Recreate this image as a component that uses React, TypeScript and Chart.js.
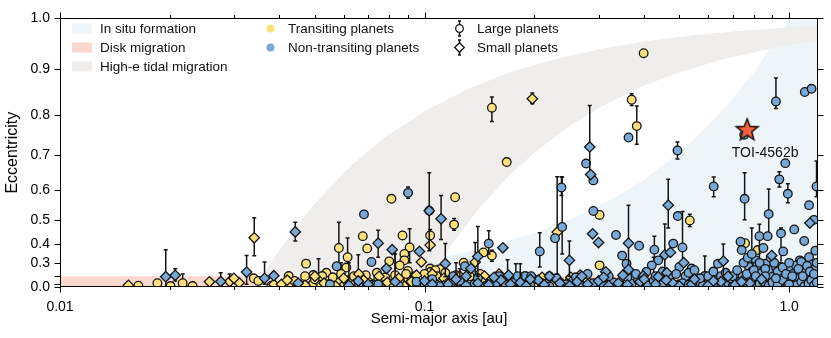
import { useEffect, useRef } from "react";
import { Chart, registerables } from "chart.js";

Chart.register(...registerables);

// ---------- data: [semi-major axis (au), eccentricity, e lower, e upper] ----------
const transitingLarge: number[][] = [
  [0.399, 0.933], [0.153, 0.817, 0.785, 0.841], [0.168, 0.682], [0.37, 0.835, 0.822, 0.848],
  [0.382, 0.774, 0.729, 0.821], [0.0811, 0.573], [0.1213, 0.578], [0.534, 0.498, 0.475, 0.52],
  [0.302, 0.518], [0.1205, 0.482, 0.46, 0.505], [0.087, 0.438], [0.1036, 0.438, 0.41, 0.463],
  [0.091, 0.384, 0.3, 0.466], [0.088, 0.351], [0.088, 0.315], [0.1036, 0.262], [0.11, 0.258],
  [0.09, 0.245], [0.128, 0.301], [0.153, 0.342, 0.31, 0.37], [0.145, 0.359], [0.103, 0.533],
  [0.0677, 0.435], [0.0582, 0.381, 0.3, 0.491], [0.0696, 0.379], [0.0615, 0.333, 0.28, 0.427],
  [0.0473, 0.295], [0.061, 0.269], [0.08, 0.309], [0.0855, 0.284], [0.0495, 0.211], [0.0538, 0.23],
  [0.0524, 0.202], [0.0424, 0.202], [0.034, 0.18], [0.0217, 0.12, 0.05, 0.22], [0.0185, 0.12],
  [0.0164, 0.07], [0.0201, 0.06], [0.0231, 0.06], [0.757, 0.404], [0.302, 0.284], [0.867, 0.187],
  [0.82, 0.371], [0.104, 0.238], [0.107, 0.25],
  [0.0424, 0.08], [0.0452, 0.1], [0.0481, 0.05], [0.0495, 0.12], [0.0512, 0.15, 0.05, 0.325], [0.0545, 0.1],
  [0.058, 0.13], [0.06, 0.06], [0.0618, 0.16], [0.0658, 0.11, 0.03, 0.346], [0.0675, 0.05], [0.07, 0.14],
  [0.0725, 0.1], [0.0746, 0.17], [0.077, 0.07], [0.0795, 0.12], [0.082, 0.05], [0.0846, 0.15],
  [0.0875, 0.09], [0.0901, 0.18], [0.093, 0.06], [0.0959, 0.12], [0.099, 0.08], [0.1022, 0.16],
  [0.105, 0.05], [0.1088, 0.11], [0.112, 0.14], [0.1158, 0.07], [0.12, 0.18], [0.1234, 0.09],
  [0.128, 0.05], [0.1314, 0.13], [0.1399, 0.08], [0.145, 0.16], [0.1489, 0.05], [0.155, 0.1],
  [0.1586, 0.14], [0.165, 0.06], [0.1689, 0.18, 0.1, 0.319], [0.18, 0.08], [0.19, 0.12], [0.2039, 0.05],
  [0.215, 0.14], [0.24, 0.07], [0.26, 0.1], [0.28, 0.05], [0.32, 0.09], [0.35, 0.06], [0.44, 0.12],
  [0.6, 0.12], [0.8, 0.12], [0.395, 0.15], [0.035, 0.15], [0.038, 0.07],
  [0.044, 0.15], [0.047, 0.2], [0.05, 0.17], [0.052, 0.09], [0.056, 0.19], [0.059, 0.22, 0.1, 0.3],
  [0.063, 0.14], [0.064, 0.2], [0.069, 0.21], [0.071, 0.09], [0.074, 0.23], [0.076, 0.13],
  [0.078, 0.19], [0.081, 0.1], [0.083, 0.21, 0.1, 0.35], [0.086, 0.12], [0.089, 0.22], [0.092, 0.15],
  [0.094, 0.2], [0.097, 0.1], [0.1, 0.22], [0.104, 0.13], [0.108, 0.2], [0.114, 0.23], [0.117, 0.1],
  [0.122, 0.21], [0.126, 0.14], [0.133, 0.2], [0.138, 0.12], [0.142, 0.22], [0.16, 0.2], [0.172, 0.13],
  [0.185, 0.19], [0.2, 0.1], [0.22, 0.2], [0.25, 0.15], [0.3, 0.12], [0.36, 0.16], [0.5, 0.1],
  [0.7, 0.15], [0.95, 0.1],
];

const transitingSmall: number[][] = [
  [0.0341, 0.428, 0.341, 0.508], [0.1975, 0.837, 0.826, 0.85], [0.1036, 0.395], [0.098, 0.305],
  [0.1377, 0.305, 0.2, 0.407], [0.2311, 0.452, 0.22, 0.641], [0.0154, 0.08], [0.0257, 0.139],
  [0.0292, 0.142, 0.05, 0.22], [0.031, 0.125], [0.03, 0.18], [0.0386, 0.1], [0.113, 0.18], [0.118, 0.163],
  [0.146, 0.202], [0.267, 0.21], [0.279, 0.15], [0.235, 0.142],
  [0.0405, 0.1], [0.047, 0.08], [0.053, 0.12], [0.057, 0.06], [0.064, 0.1], [0.068, 0.16],
  [0.073, 0.08], [0.079, 0.13], [0.088, 0.05], [0.092, 0.14], [0.097, 0.1], [0.107, 0.12],
  [0.113, 0.07], [0.119, 0.16], [0.126, 0.1], [0.135, 0.06], [0.1445, 0.13], [0.152, 0.09],
  [0.163, 0.15], [0.175, 0.07], [0.186, 0.11], [0.2, 0.17], [0.225, 0.1], [0.252, 0.19],
  [0.27, 0.08], [0.232, 0.15], [0.33, 0.1],
  [0.06, 0.18], [0.066, 0.22], [0.075, 0.2], [0.085, 0.18], [0.095, 0.21], [0.105, 0.22],
  [0.125, 0.2], [0.16, 0.22], [0.21, 0.19], [0.05, 0.2], [0.042, 0.16],
];

const nonTransitingLarge: number[][] = [
  [0.0682, 0.52], [0.0901, 0.592, 0.575, 0.61], [0.0574, 0.278], [0.0715, 0.305],
  [0.15, 0.402, 0.35, 0.458], [0.129, 0.278], [0.207, 0.364, 0.273, 0.449], [0.2385, 0.473, 0.35, 0.64],
  [0.228, 0.426], [0.2374, 0.609, 0.584, 0.641], [0.2773, 0.678], [0.2904, 0.63], [0.2904, 0.532],
  [0.3626, 0.746], [0.494, 0.713, 0.69, 0.735], [0.92, 0.831, 0.815, 0.882], [1.104, 0.852],
  [1.152, 0.859], [0.753, 0.753], [0.976, 0.679], [0.94, 0.633, 0.61, 0.655],
  [0.992, 0.589, 0.56, 0.62], [0.621, 0.612, 0.58, 0.64], [0.755, 0.573, 0.5, 0.652],
  [1.189, 0.612, 0.58, 0.685], [0.495, 0.514], [0.335, 0.44], [0.3877, 0.392], [0.3483, 0.342],
  [0.358, 0.295], [0.4269, 0.373, 0.3, 0.435], [0.481, 0.402], [0.4375, 0.315],
  [0.51, 0.384, 0.3, 0.53], [0.5, 0.273], [0.54, 0.262], [0.42, 0.284], [0.406, 0.238],
  [0.587, 0.202, 0.1, 0.34], [0.55, 0.19], [0.52, 0.202], [0.638, 0.295], [0.7356, 0.411],
  [0.741, 0.371], [0.829, 0.435, 0.2, 0.483], [0.879, 0.521, 0.428, 0.604], [0.873, 0.435],
  [0.95, 0.447, 0.3, 0.469], [1.033, 0.463], [1.134, 0.552], [1.17, 0.5], [1.1, 0.414], [0.963, 0.364],
  [0.85, 0.381], [0.811, 0.315], [1.07, 0.315], [1.18, 0.368], [0.1887, 0.202],
  [0.776, 0.273], [0.79, 0.238], [0.818, 0.284], [0.838, 0.225], [0.864, 0.295], [0.88, 0.25],
  [0.92, 0.273], [0.9, 0.196], [0.935, 0.211], [0.776, 0.196], [0.851, 0.163], [1.011, 0.262],
  [1.043, 0.284], [1.08, 0.305], [1.134, 0.333], [1.16, 0.29], [1.025, 0.22], [1.06, 0.22],
  [1.111, 0.25], [1.147, 0.211], [1.18, 0.262], [0.98, 0.15], [1.043, 0.18], [1.12, 0.163], [1.16, 0.155],
  [0.055, 0.1], [0.066, 0.12], [0.0746, 0.1], [0.085, 0.07], [0.095, 0.14], [0.1, 0.09], [0.11, 0.06],
  [0.118, 0.12], [0.125, 0.15, 0.02, 0.26], [0.137, 0.1], [0.147, 0.06], [0.157, 0.12], [0.167, 0.09],
  [0.178, 0.15, 0.05, 0.295], [0.195, 0.08], [0.21, 0.12], [0.22, 0.05], [0.245, 0.1], [0.255, 0.15],
  [0.268, 0.07], [0.29, 0.12], [0.31, 0.08], [0.33, 0.13], [0.345, 0.06], [0.37, 0.11], [0.385, 0.16],
  [0.41, 0.08], [0.425, 0.15, 0.05, 0.333], [0.45, 0.1], [0.47, 0.15], [0.49, 0.07], [0.51, 0.12],
  [0.53, 0.09], [0.56, 0.14], [0.58, 0.07], [0.62, 0.11], [0.64, 0.16], [0.66, 0.08], [0.68, 0.13],
  [0.7, 0.05], [0.72, 0.1], [0.735, 0.15], [0.75, 0.08], [0.77, 0.12], [0.79, 0.17, 0.1, 0.469],
  [0.81, 0.06], [0.83, 0.11], [0.85, 0.14], [0.88, 0.08], [0.9, 0.13], [0.93, 0.1], [0.96, 0.16],
  [0.99, 0.07], [1.02, 0.12], [1.05, 0.09], [1.08, 0.14], [1.1, 0.05], [1.13, 0.11], [1.15, 0.16],
  [1.17, 0.08], [1.19, 0.13], [0.745, 0.2], [0.765, 0.22], [0.8, 0.25], [0.69, 0.18], [0.57, 0.18],
  [0.47, 0.2], [0.36, 0.19], [0.26, 0.19], [0.16, 0.2], [0.196, 0.2],
  [0.6, 0.2], [0.62, 0.24], [0.65, 0.2], [0.67, 0.23], [0.7, 0.2], [0.72, 0.25], [0.75, 0.3],
  [0.77, 0.33], [0.79, 0.35], [0.81, 0.2], [0.83, 0.3], [0.86, 0.26], [0.89, 0.33], [0.91, 0.3],
  [0.93, 0.24], [0.96, 0.27], [0.98, 0.22], [1.0, 0.3], [1.02, 0.2], [1.06, 0.26], [1.09, 0.2],
  [1.12, 0.28], [1.14, 0.24], [1.17, 0.22], [1.19, 0.3], [0.43, 0.2], [0.45, 0.24], [0.49, 0.22],
  [0.53, 0.23], [0.55, 0.25], [0.38, 0.22], [0.32, 0.2], [0.28, 0.22], [0.23, 0.18], [0.18, 0.2],
  [0.14, 0.18], [0.12, 0.2], [0.105, 0.17], [1.0, 0.1], [0.92, 0.18], [0.86, 0.2],
];

const nonTransitingSmall: number[][] = [
  [0.0195, 0.196, 0.03, 0.373], [0.0207, 0.209, 0.15, 0.26], [0.0276, 0.142, 0.05, 0.23],
  [0.0325, 0.236, 0.1, 0.342], [0.0386, 0.205], [0.0364, 0.18, 0.1, 0.305], [0.0442, 0.453, 0.414, 0.491],
  [0.0746, 0.404, 0.333, 0.46], [0.0815, 0.373], [0.0786, 0.262], [0.0968, 0.364],
  [0.103, 0.533, 0.368, 0.652], [0.111, 0.504, 0.421, 0.584], [0.114, 0.295, 0.196, 0.402],
  [0.14, 0.337, 0.2, 0.475], [0.164, 0.382], [0.134, 0.262], [0.2838, 0.722, 0.64, 0.822],
  [0.2855, 0.647], [0.289, 0.445], [0.3, 0.407], [0.314, 0.238], [0.3626, 0.404, 0.23, 0.552],
  [0.3626, 0.255], [0.2496, 0.315, 0.2, 0.414], [0.466, 0.552, 0.469, 0.633],
  [0.456, 0.346, 0.25, 0.484], [0.4725, 0.359], [0.514, 0.301], [0.4375, 0.196], [0.462, 0.23],
  [0.66, 0.311, 0.14, 0.4], [0.896, 0.342], [1.14, 0.488], [0.398, 0.202],
  [0.045, 0.12], [0.062, 0.08, 0.02, 0.3], [0.0658, 0.15], [0.07, 0.1],
  [0.083, 0.14, 0.05, 0.37], [0.1, 0.15], [0.105, 0.1], [0.116, 0.1],
  [0.122, 0.17, 0.05, 0.3], [0.13, 0.08], [0.14, 0.12], [0.15, 0.09], [0.162, 0.16], [0.172, 0.1],
  [0.183, 0.13, 0.05, 0.295], [0.19, 0.06], [0.205, 0.16], [0.213, 0.09], [0.235, 0.12], [0.25, 0.07],
  [0.262, 0.14], [0.28, 0.1], [0.3, 0.15], [0.32, 0.07], [0.34, 0.12], [0.36, 0.09], [0.39, 0.14],
  [0.43, 0.1], [0.48, 0.12], [0.5, 0.06], [0.54, 0.1], [0.6, 0.08], [0.65, 0.14], [0.71, 0.09], [0.78, 0.12],
  [0.55, 0.17], [0.62, 0.15], [0.68, 0.2], [0.74, 0.14], [0.84, 0.17],
  [0.13, 0.2], [0.155, 0.19], [0.17, 0.21], [0.195, 0.17], [0.22, 0.2], [0.27, 0.2], [0.31, 0.19],
  [0.35, 0.21], [0.4, 0.17], [0.46, 0.16],
];

const toi4562b: number[][] = [[0.767, 0.765]];
const toiLabel = "TOI-4562b";

// ---------- axes ----------
const xMajorTicks = [0.01, 0.1, 1.0];
const xMajorLabels = ["0.01", "0.1", "1.0"];
const xMinorTicks = [0.02, 0.03, 0.04, 0.05, 0.06, 0.07, 0.08, 0.09, 0.2, 0.3, 0.4, 0.5, 0.6, 0.7, 0.8, 0.9];
const yTickValues = [0, 0.1, 0.2, 0.3, 0.4, 0.5, 0.6, 0.7, 0.8, 0.9, 1.0];
const yTickLabels = ["0.0", "", "", "0.3", "0.4", "0.5", "0.6", "0.7", "0.8", "0.9", "1.0"];
const xRange = [0.01, 1.2];

// ---------- shaded regions (boundary curves) ----------
const inSituA = [0.01, 0.015, 0.02, 0.03, 0.04, 0.05, 0.06, 0.08, 0.1, 0.12, 0.15, 0.2, 0.25, 0.3, 0.35, 0.4, 0.5, 0.6, 0.7, 0.8, 0.9, 1.0, 1.2];
const inSituE = [0.1, 0.122, 0.141, 0.173, 0.2, 0.224, 0.245, 0.283, 0.316, 0.346, 0.387, 0.447, 0.5, 0.548, 0.592, 0.632, 0.707, 0.775, 0.837, 0.894, 0.949, 1.0, 1.0];
const diskA = [0.01, 1.2];
const diskE = [0.2, 0.2];
const highEInnerA = [0.0345, 0.035, 0.036, 0.037, 0.038, 0.04, 0.045, 0.05, 0.06, 0.07, 0.08, 0.1, 0.13, 0.17, 0.22, 0.3, 0.4, 0.55, 0.75, 1.0, 1.2];
const highEInnerE = [0.0, 0.12, 0.204, 0.26, 0.303, 0.371, 0.483, 0.557, 0.652, 0.712, 0.754, 0.809, 0.857, 0.893, 0.918, 0.941, 0.956, 0.968, 0.977, 0.983, 0.986];
const highEOuterA = [0.1, 0.102, 0.105, 0.11, 0.12, 0.14, 0.17, 0.2, 0.25, 0.3, 0.4, 0.5, 0.65, 0.8, 1.0, 1.2];
const highEOuterE = [0.0, 0.139, 0.218, 0.302, 0.408, 0.535, 0.642, 0.707, 0.775, 0.816, 0.866, 0.894, 0.92, 0.935, 0.949, 0.957];

// ---------- styles ----------
const FONT = "'Liberation Sans', Arial, sans-serif";
const YELLOW = "#fde07a";
const BLUE = "#78a9d6";
const EDGE = "#151515";
const IN_SITU = "#edf5f8";
const DISK = "#fad8cd";
const HIGH_E = "#efeeec";
const STAR = "#f2603c";

const pt = (a: number, e: number) => ({ x: a, y: e * e });

function makeStar(): HTMLCanvasElement {
  const c = document.createElement("canvas");
  c.width = 28;
  c.height = 28;
  const g = c.getContext("2d")!;
  const R = 11.5, r = 4.9;
  g.beginPath();
  for (let i = 0; i < 10; i++) {
    const ang = -Math.PI / 2 + (i * Math.PI) / 5;
    const rad = i % 2 === 0 ? R : r;
    const px = 14 + rad * Math.cos(ang), py = 14.5 + rad * Math.sin(ang);
    if (i === 0) g.moveTo(px, py); else g.lineTo(px, py);
  }
  g.closePath();
  g.fillStyle = STAR;
  g.fill();
  g.lineWidth = 1.5;
  g.strokeStyle = EDGE;
  g.lineJoin = "miter";
  g.stroke();
  return c;
}

function markerDataset(label: string, rows: number[][], color: string, style: string, radius: number, order: number) {
  return {
    type: "scatter" as const,
    label,
    data: rows.map((r) => pt(r[0], r[1])),
    errs: rows.map((r) => (r.length >= 4 ? [r[2], r[3]] : null)),
    backgroundColor: color,
    borderColor: EDGE,
    borderWidth: 1.3,
    pointStyle: style,
    pointRadius: radius,
    pointHoverRadius: radius,
    order,
    clip: 0,
  };
}

const errorBarPlugin = {
  id: "errorBars",
  beforeDatasetDraw(chart: any, args: any) {
    const ds = chart.data.datasets[args.index];
    if (!ds.errs) return;
    const { ctx, chartArea: ca } = chart;
    const xs = chart.scales.x, ys = chart.scales.y;
    ctx.save();
    ctx.beginPath();
    ctx.rect(ca.left, ca.top, ca.right - ca.left, ca.bottom - ca.top);
    ctx.clip();
    ctx.strokeStyle = EDGE;
    ctx.lineWidth = 1.5;
    ds.errs.forEach((err: number[] | null, i: number) => {
      if (!err) return;
      const px = xs.getPixelForValue(ds.data[i].x);
      const y1 = ys.getPixelForValue(err[0] * err[0]);
      const y2 = ys.getPixelForValue(err[1] * err[1]);
      ctx.beginPath();
      ctx.moveTo(px, y1);
      ctx.lineTo(px, y2);
      ctx.moveTo(px - 2, y1);
      ctx.lineTo(px + 2, y1);
      ctx.moveTo(px - 2, y2);
      ctx.lineTo(px + 2, y2);
      ctx.stroke();
    });
    ctx.restore();
  },
};

const decorPlugin = {
  id: "decor",
  afterDraw(chart: any) {
    const { ctx, chartArea: ca } = chart;
    const xs = chart.scales.x, ys = chart.scales.y;
    ctx.save();
    // TOI label
    const starMeta = chart.getDatasetMeta(chart.data.datasets.length - 1);
    const sp = starMeta.data[0];
    ctx.fillStyle = "#111";
    ctx.font = `14px ${FONT}`;
    ctx.textAlign = "center";
    ctx.textBaseline = "alphabetic";
    ctx.fillText(toiLabel, sp.x + 18, sp.y + 27);

    // frame
    ctx.strokeStyle = "#000";
    ctx.lineWidth = 1;
    const L = Math.round(ca.left) + 0.5, R = Math.round(ca.right) - 0.5;
    const T = Math.round(ca.top) + 0.5, B = Math.round(ca.bottom) - 0.5;
    ctx.strokeRect(L, T, R - L, B - T);
    // ticks
    ctx.beginPath();
    const xt = [...xMajorTicks.map((v) => [v, 6]), ...xMinorTicks.map((v) => [v, 3.5])];
    xt.forEach(([v, len]) => {
      const px = Math.round(xs.getPixelForValue(v)) + 0.5;
      ctx.moveTo(px, B);
      ctx.lineTo(px, B + len);
      ctx.moveTo(px, T);
      ctx.lineTo(px, T - len);
    });
    yTickValues.forEach((e) => {
      const py = Math.round(ys.getPixelForValue(e * e)) + 0.5;
      ctx.moveTo(L, py);
      ctx.lineTo(L - 6, py);
      ctx.moveTo(R, py);
      ctx.lineTo(R + 6, py);
    });
    ctx.stroke();

    // legend
    const rows = [28.5, 47.5, 66.5];
    ctx.font = `13.5px ${FONT}`;
    ctx.textAlign = "left";
    ctx.textBaseline = "middle";
    const patches: [string, string][] = [
      [IN_SITU, "In situ formation"],
      [DISK, "Disk migration"],
      [HIGH_E, "High-e tidal migration"],
    ];
    patches.forEach(([c, t], i) => {
      ctx.fillStyle = c;
      ctx.fillRect(72, rows[i] - 5, 20, 10);
      ctx.fillStyle = "#111";
      ctx.fillText(t, 100, rows[i] + 0.5);
    });
    const dots: [string, string][] = [
      [YELLOW, "Transiting planets"],
      [BLUE, "Non-transiting planets"],
    ];
    dots.forEach(([c, t], i) => {
      ctx.fillStyle = c;
      ctx.beginPath();
      ctx.arc(270.5, rows[i], 4, 0, Math.PI * 2);
      ctx.fill();
      ctx.fillStyle = "#111";
      ctx.fillText(t, 288, rows[i] + 0.5);
    });
    const shapes = ["Large planets", "Small planets"];
    shapes.forEach((t, i) => {
      const cx = 459.5, cy = rows[i];
      ctx.strokeStyle = EDGE;
      ctx.lineWidth = 1.5;
      ctx.beginPath();
      ctx.moveTo(cx, cy - 7.5);
      ctx.lineTo(cx, cy + 7.5);
      ctx.moveTo(cx - 1.5, cy - 7.5);
      ctx.lineTo(cx + 1.5, cy - 7.5);
      ctx.moveTo(cx - 1.5, cy + 7.5);
      ctx.lineTo(cx + 1.5, cy + 7.5);
      ctx.stroke();
      ctx.fillStyle = "#fff";
      ctx.lineWidth = 1.3;
      ctx.beginPath();
      if (i === 0) {
        ctx.arc(cx, cy, 3.8, 0, Math.PI * 2);
      } else {
        ctx.moveTo(cx, cy - 4.8);
        ctx.lineTo(cx + 4.8, cy);
        ctx.lineTo(cx, cy + 4.8);
        ctx.lineTo(cx - 4.8, cy);
        ctx.closePath();
      }
      ctx.fill();
      ctx.stroke();
      ctx.fillStyle = "#111";
      ctx.fillText(t, 477, cy + 0.5);
    });
    ctx.restore();
  },
};

export default function App() {
  const ref = useRef<HTMLCanvasElement | null>(null);

  useEffect(() => {
    if (!ref.current) return;
    const highEPolygon = [
      ...highEInnerA.map((a, i) => pt(a, highEInnerE[i])),
      ...highEOuterA.map((a, i) => pt(a, highEOuterE[i])).reverse(),
    ];
    const starImg = makeStar();

    const chart = new Chart(ref.current, {
      type: "scatter",
      data: {
        datasets: [
          {
            type: "line",
            label: "In situ formation",
            data: inSituA.map((a, i) => pt(a, inSituE[i])),
            backgroundColor: IN_SITU,
            borderColor: "rgba(0,0,0,0)",
            borderWidth: 0,
            pointRadius: 0,
            fill: "origin",
            order: 100,
          },
          {
            type: "line",
            label: "Disk migration",
            data: diskA.map((a, i) => pt(a, diskE[i])),
            backgroundColor: DISK,
            borderColor: "rgba(0,0,0,0)",
            borderWidth: 0,
            pointRadius: 0,
            fill: "origin",
            order: 99,
          },
          {
            type: "line",
            label: "High-e tidal migration",
            data: highEPolygon,
            backgroundColor: HIGH_E,
            borderColor: "rgba(0,0,0,0)",
            borderWidth: 0,
            pointRadius: 0,
            fill: "shape",
            order: 98,
          },
          markerDataset("Transiting large", transitingLarge, YELLOW, "circle", 4.3, 6),
          markerDataset("Transiting small", transitingSmall, YELLOW, "rectRot", 5.2, 5),
          markerDataset("Non-transiting large", nonTransitingLarge, BLUE, "circle", 4.3, 4),
          markerDataset("Non-transiting small", nonTransitingSmall, BLUE, "rectRot", 5.2, 3),
          {
            type: "scatter",
            label: toiLabel,
            data: toi4562b.map((r) => pt(r[0], r[1])),
            pointStyle: starImg,
            pointRadius: 12,
            order: 0,
          },
        ] as any,
      },
      options: {
        responsive: false,
        animation: false,
        events: [],
        layout: { padding: { left: 0, right: 8, top: 11, bottom: 0 } },
        plugins: {
          legend: { display: false },
          tooltip: { enabled: false },
        },
        scales: {
          x: {
            type: "logarithmic",
            min: xRange[0],
            max: xRange[1],
            afterBuildTicks: (scale: any) => {
              scale.ticks = [...xMajorTicks, ...xMinorTicks]
                .sort((p, q) => p - q)
                .map((v) => ({ value: v, major: xMajorTicks.includes(v) }));
            },
            afterFit: (scale: any) => {
              scale.height = 51;
            },
            grid: { display: false, drawTicks: false },
            border: { display: false },
            ticks: {
              autoSkip: false,
              maxRotation: 0,
              padding: 12,
              color: "#000",
              font: { family: FONT, size: 14 },
              callback: (v: any) => {
                const i = xMajorTicks.findIndex((m) => Math.abs(m - Number(v)) / m < 1e-6);
                return i >= 0 ? xMajorLabels[i] : "";
              },
            },
            title: {
              display: true,
              text: "Semi-major axis [au]",
              color: "#000",
              font: { family: FONT, size: 15 },
              padding: { top: 0, bottom: 10 },
            },
          },
          y: {
            type: "linear",
            min: 0,
            max: 1,
            afterBuildTicks: (scale: any) => {
              scale.ticks = yTickValues.map((e) => ({ value: e * e }));
            },
            afterFit: (scale: any) => {
              scale.width = 60;
            },
            grid: { display: false, drawTicks: false },
            border: { display: false },
            ticks: {
              autoSkip: false,
              padding: 10,
              color: "#000",
              font: { family: FONT, size: 14 },
              callback: (_v: any, i: number) => yTickLabels[i] ?? "",
            },
            title: {
              display: true,
              text: "Eccentricity",
              color: "#000",
              font: { family: FONT, size: 16 },
              padding: { top: 3, bottom: 0 },
            },
          },
        },
      } as any,
      plugins: [errorBarPlugin, decorPlugin],
    });
    return () => chart.destroy();
  }, []);

  return (
    <div style={{ position: "fixed", left: 0, top: 0, width: 831, height: 338, background: "#fff" }}>
      <canvas ref={ref} width={831} height={338} style={{ width: 831, height: 338, display: "block" }} />
    </div>
  );
}
